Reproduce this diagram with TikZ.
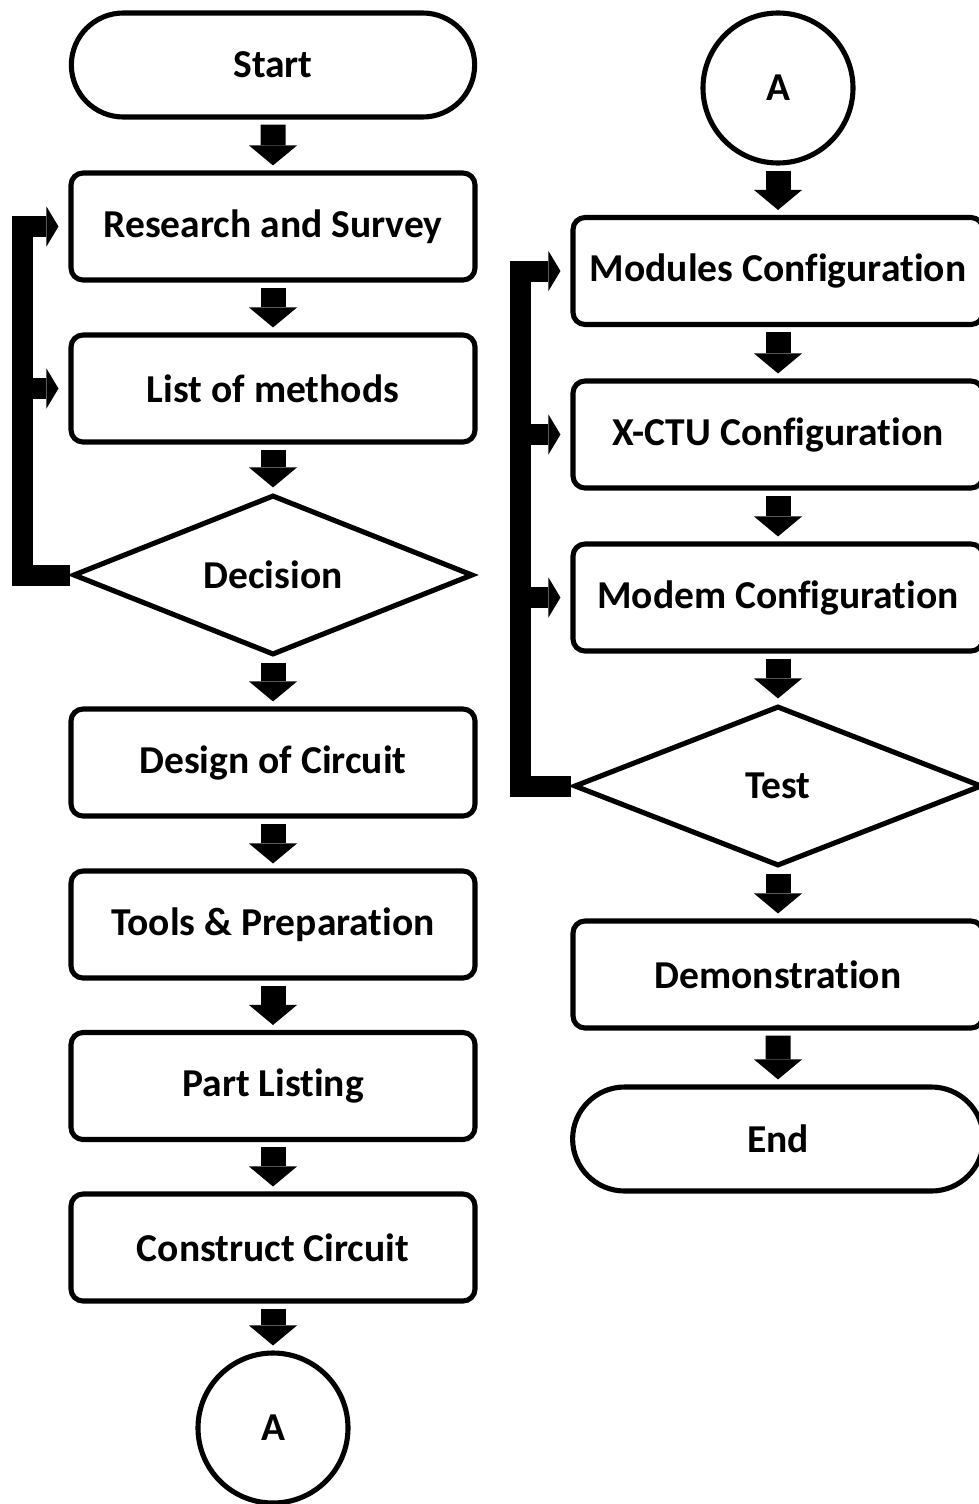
\documentclass[tikz,border=0pt]{standalone}
\usepackage{fontspec}
\setmainfont{Carlito}[RawFeature={-liga;-clig;-calt;-dlig}]
\usetikzlibrary{arrows.meta,shapes.geometric,shapes.misc}

\begin{document}
\begin{tikzpicture}[
        txt/.style={font=\bfseries\fontsize{22.5}{27}\selectfont},
        box/.style={txt, draw, line width=2.9pt, rounded corners=0.24cm, minimum width=8.08cm, minimum height=2.14cm},
        term/.style={txt, draw, line width=2.9pt, rounded rectangle, minimum width=8.3cm, minimum height=2.08cm},
        conn/.style={txt, draw, line width=2.9pt, circle, minimum size=3cm, inner sep=0pt},
        dec/.style={txt, draw, line width=2.9pt, diamond, aspect=2.5, inner sep=0pt, minimum width=8cm, minimum height=3.2cm},
        flow/.style={line width=0.5cm, -{Triangle[length=0.4cm, width=0.96cm, line width=0pt]}, shorten <=0.1cm, shorten >=0.1cm},
        back/.style={line width=0.42cm, line join=miter, -{Triangle[length=0.24cm, width=0.8cm, line width=0pt]}, shorten >=0.2cm}
    ]
        \useasboundingbox (0, 0) rectangle (19.58, -30.08);

        \node[term] (start) at (5.46, -1.30) {Start};
        \node[box] (research) at (5.46, -4.53) {Research and Survey};
        \node[box] (methods) at (5.46, -7.77) {List of methods};
        \node[dec] (decision) at (5.46, -11.50) {Decision};
        \node[box] (design) at (5.46, -15.25) {Design of Circuit};
        \node[box] (tools) at (5.46, -18.49) {Tools \& Preparation};
        \node[box] (part) at (5.46, -21.72) {Part Listing};
        \node[box] (construct) at (5.46, -24.95) {Construct Circuit};
        \node[conn] (A1) at (5.46, -28.56) {A};

        \node[conn] (A2) at (15.56, -1.76) {A};
        \node[box, minimum width=8.2cm] (modules) at (15.56, -5.42) {Modules Configuration};
        \node[box, minimum width=8.2cm] (xctu) at (15.56, -8.69) {X-CTU Configuration};
        \node[box, minimum width=8.2cm] (modem) at (15.56, -11.95) {Modem Configuration};
        \node[dec, minimum width=8.16cm] (test) at (15.56, -15.72) {Test};
        \node[box, minimum width=8.2cm] (demo) at (15.56, -19.49) {Demonstration};
        \node[term, minimum width=8.45cm] (end) at (15.56, -22.78) {End};

        \coordinate (loopL) at (0.44, 0);
        \coordinate (loopR) at (10.40, 0);

        \draw[flow] (start) -- (research);
        \draw[flow] (research) -- (methods);
        \draw[flow] (methods) -- (decision);
        \draw[flow] (decision) -- (design);
        \draw[flow] (design) -- (tools);
        \draw[flow] (tools) -- (part);
        \draw[flow] (part) -- (construct);
        \draw[flow] (construct) -- (A1);

        \draw[flow] (A2) -- (modules);
        \draw[flow] (modules) -- (xctu);
        \draw[flow] (xctu) -- (modem);
        \draw[flow] (modem) -- (test);
        \draw[flow] (test) -- (demo);
        \draw[flow] (demo) -- (end);

        \draw[back] (decision.west) -- (decision.west -| loopL) |- (research.west);
        \draw[back] (methods.west -| loopL) -- (methods.west);

        \draw[back] (test.west) -- (test.west -| loopR) |- (modules.west);
        \draw[back] (xctu.west -| loopR) -- (xctu.west);
        \draw[back] (modem.west -| loopR) -- (modem.west);
    \end{tikzpicture}
\end{document}
